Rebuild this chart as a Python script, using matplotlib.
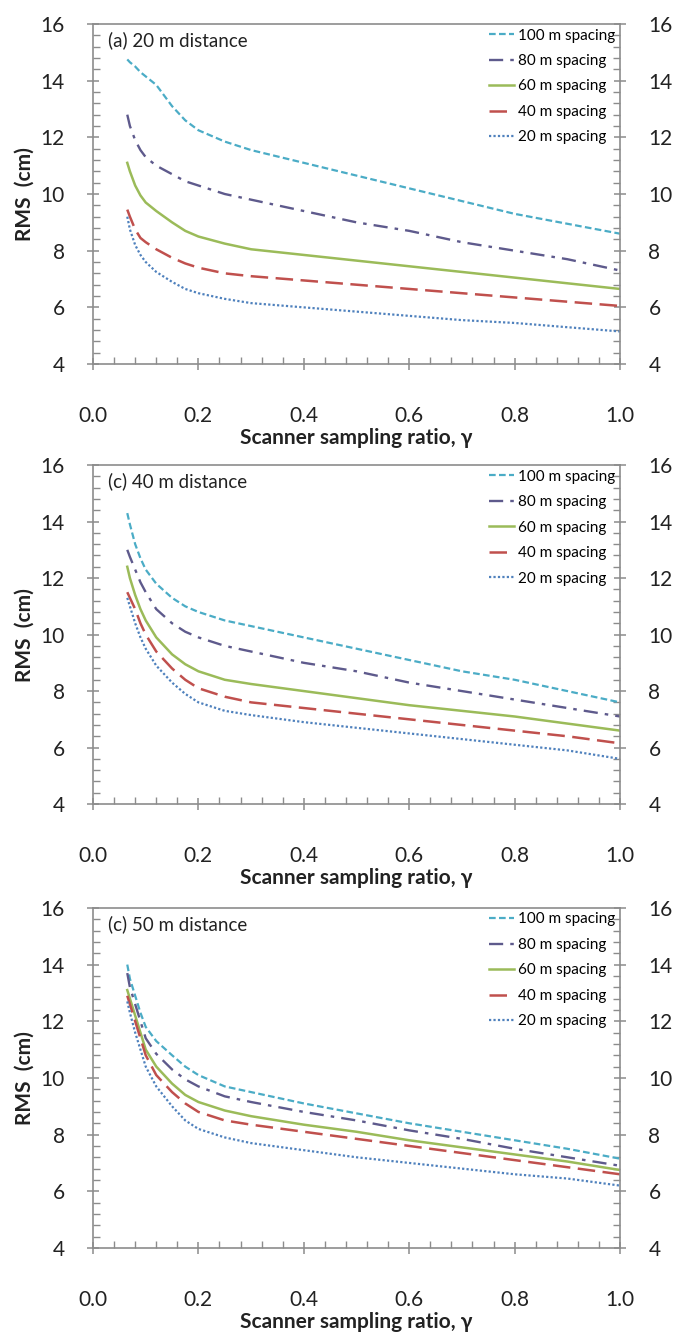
import matplotlib
matplotlib.use("Agg")
import matplotlib.pyplot as plt
from matplotlib.ticker import MultipleLocator

plt.rcParams["font.family"] = ["Lato", "DejaVu Sans"]

# sampling ratio where the curves are read
GAMMA = [0.065, 0.07, 0.08, 0.09, 0.1, 0.12, 0.15, 0.175, 0.2, 0.25,
         0.3, 0.4, 0.5, 0.6, 0.7, 0.8, 0.9, 1.0]
SPACINGS = ["100 m spacing", "80 m spacing", "60 m spacing", "40 m spacing", "20 m spacing"]
TITLES = ["(a) 20 m distance", "(c) 40 m distance", "(c) 50 m distance"]

# (a) 20 m distance
d20_s100 = [14.75, 14.65, 14.5, 14.3, 14.15, 13.85, 13.1, 12.6, 12.25, 11.85,
            11.55, 11.1, 10.65, 10.2, 9.75, 9.3, 8.95, 8.6]
d20_s80 = [12.8, 12.4, 11.9, 11.55, 11.3, 11.0, 10.7, 10.45, 10.3, 10.0,
           9.8, 9.4, 9.0, 8.7, 8.3, 8.0, 7.7, 7.3]
d20_s60 = [11.1, 10.8, 10.3, 9.95, 9.7, 9.4, 9.0, 8.7, 8.5, 8.25,
           8.05, 7.85, 7.65, 7.45, 7.25, 7.05, 6.85, 6.65]
d20_s40 = [9.45, 9.2, 8.75, 8.45, 8.3, 8.05, 7.75, 7.55, 7.4, 7.2,
           7.1, 6.95, 6.8, 6.65, 6.5, 6.35, 6.2, 6.05]
d20_s20 = [9.2, 8.75, 8.2, 7.85, 7.6, 7.25, 6.9, 6.65, 6.5, 6.3,
           6.15, 6.0, 5.85, 5.7, 5.55, 5.45, 5.3, 5.15]

# (c) 40 m distance
d40_s100 = [14.3, 13.9, 13.2, 12.7, 12.3, 11.8, 11.3, 11.0, 10.8, 10.5,
            10.3, 9.9, 9.5, 9.1, 8.7, 8.4, 8.0, 7.6]
d40_s80 = [13.0, 12.75, 12.3, 11.85, 11.5, 10.9, 10.4, 10.1, 9.9, 9.6,
           9.4, 9.0, 8.7, 8.3, 8.0, 7.7, 7.4, 7.1]
d40_s60 = [12.4, 12.0, 11.4, 10.9, 10.5, 9.9, 9.3, 8.95, 8.7, 8.4,
           8.25, 8.0, 7.75, 7.5, 7.3, 7.1, 6.85, 6.6]
d40_s40 = [11.5, 11.3, 10.9, 10.4, 10.0, 9.4, 8.8, 8.4, 8.1, 7.8,
           7.6, 7.4, 7.2, 7.0, 6.8, 6.6, 6.4, 6.15]
d40_s20 = [11.3, 11.0, 10.4, 9.9, 9.5, 8.9, 8.3, 7.9, 7.6, 7.3,
           7.15, 6.9, 6.7, 6.5, 6.3, 6.1, 5.9, 5.6]

# (c) 50 m distance
d50_s100 = [14.0, 13.5, 12.9, 12.3, 11.8, 11.3, 10.8, 10.4, 10.1, 9.7,
            9.5, 9.1, 8.75, 8.4, 8.1, 7.8, 7.5, 7.15]
d50_s80 = [13.7, 13.2, 12.6, 12.0, 11.4, 10.85, 10.3, 9.95, 9.7, 9.35,
           9.15, 8.8, 8.5, 8.15, 7.85, 7.5, 7.2, 6.9]
d50_s60 = [13.1, 12.8, 12.2, 11.6, 11.0, 10.4, 9.8, 9.4, 9.15, 8.85,
           8.65, 8.35, 8.1, 7.8, 7.55, 7.3, 7.05, 6.75]
d50_s40 = [12.9, 12.6, 12.0, 11.4, 10.8, 10.1, 9.5, 9.1, 8.8, 8.5,
           8.35, 8.1, 7.85, 7.6, 7.35, 7.1, 6.85, 6.6]
d50_s20 = [12.7, 12.3, 11.6, 11.0, 10.4, 9.7, 9.0, 8.5, 8.2, 7.9,
           7.7, 7.45, 7.2, 7.0, 6.8, 6.6, 6.45, 6.2]

PANELS = [
    [d20_s100, d20_s80, d20_s60, d20_s40, d20_s20],
    [d40_s100, d40_s80, d40_s60, d40_s40, d40_s20],
    [d50_s100, d50_s80, d50_s60, d50_s40, d50_s20],
]

STYLES = [
    dict(color="#4BACC6", ls=(0, (3, 1.5)), lw=1.6),
    dict(color="#5E5A8C", ls=(0, (6, 3, 1.5, 3)), lw=1.7),
    dict(color="#9BBB59", ls="-", lw=1.8),
    dict(color="#C0504D", ls=(0, (7, 3)), lw=1.8),
    dict(color="#4F81BD", ls=(0, (1, 1)), lw=1.6),
]

fig = plt.figure(figsize=(6.76, 13.33), dpi=100)
boxes = [(0.1376, 0.7269, 0.7796, 0.2551),
         (0.1376, 0.3968, 0.7796, 0.2543),
         (0.1376, 0.0638, 0.7796, 0.2551)]

for box, title, series in zip(boxes, TITLES, PANELS):
    ax = fig.add_axes(box)
    for ys, lab, st in zip(series, SPACINGS, STYLES):
        ax.plot(GAMMA, ys, label=lab, **st)
    ax.set_xlim(0, 1)
    ax.set_ylim(4, 16)
    ax.xaxis.set_major_locator(MultipleLocator(0.2))
    ax.xaxis.set_minor_locator(MultipleLocator(0.04))
    ax.yaxis.set_major_locator(MultipleLocator(2))
    ax.yaxis.set_minor_locator(MultipleLocator(0.4))
    ax.xaxis.set_major_formatter(lambda v, p: f"{v:.1f}")
    for s in ax.spines.values():
        s.set_color("#8c8c8c")
        s.set_linewidth(1.2)
    ax.tick_params(which="major", direction="inout", length=9, width=1.1,
                   color="#8c8c8c", labelsize=15, labelcolor="#222222",
                   right=True, labelright=True)
    ax.tick_params(which="minor", direction="in", length=5, width=1,
                   color="#8c8c8c", right=True)
    ax.tick_params(axis="x", which="major", pad=26)
    ax.tick_params(axis="y", which="major", pad=16)
    ax.set_xlabel("Scanner sampling ratio, γ", fontsize=15, fontweight="bold",
                  color="#222222", labelpad=1)
    ax.set_ylabel("RMS  (cm)", fontsize=15, fontweight="bold", color="#222222",
                  labelpad=4)
    ax.text(0.028, 0.953, title, transform=ax.transAxes, fontsize=13.5,
            va="center", ha="left", color="#222222")
    ax.legend(loc="upper right", frameon=False, fontsize=11, labelspacing=0.75,
              handlelength=1.6, handletextpad=0.3, borderaxespad=0.1,
              borderpad=0.2)

fig.savefig("out.png", dpi=100)
